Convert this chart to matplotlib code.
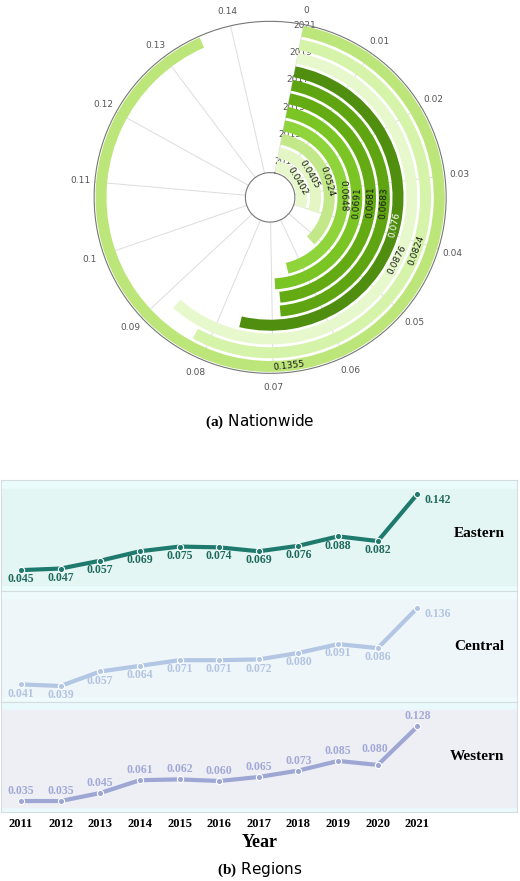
import numpy as np
import matplotlib
matplotlib.use("Agg")
import matplotlib.pyplot as plt

plt.rcParams['mathtext.fontset'] = 'custom'
plt.rcParams['mathtext.bf'] = 'Liberation Serif:bold'
plt.rcParams['mathtext.rm'] = 'Liberation Serif'

years = [2011, 2012, 2013, 2014, 2015, 2016, 2017, 2018, 2019, 2020, 2021]
national = [0.0402, 0.0405, 0.0524, 0.0648, 0.0691, 0.0681, 0.0683, 0.076, 0.0876, 0.0824, 0.1355]
bar_colors = ['#e8f8cc', '#e3f6c4', '#c3e88a', '#8ed43a', '#7ac423', '#64ab13', '#5fa512',
              '#4f8e0e', '#e6f8cc', '#d6f3aa', '#bde67a']
eastern = [0.045, 0.047, 0.057, 0.069, 0.075, 0.074, 0.069, 0.076, 0.088, 0.082, 0.142]
central = [0.041, 0.039, 0.057, 0.064, 0.071, 0.071, 0.072, 0.080, 0.091, 0.086, 0.136]
western = [0.035, 0.035, 0.045, 0.061, 0.062, 0.060, 0.065, 0.073, 0.085, 0.080, 0.128]
angle_ticks = [round(0.01 * i, 2) for i in range(15)]

fig = plt.figure(figsize=(5.2, 8.81), dpi=100)
FULL = 0.15
def th(v):
    return np.asarray(v) * 2 * np.pi / FULL

ax = fig.add_axes([0.181, 0.576, 0.677, 0.40], projection='polar')
ax.set_theta_zero_location('N', offset=-11)
ax.set_theta_direction(-1)
r = np.arange(len(years))
ax.barh(r, th(national), left=0, height=0.8, color=bar_colors, zorder=3)
ax.set_ylim(-0.5, 10.5)
ax.set_rorigin(-2.3)
ax.set_xticks(th(angle_ticks))
ax.set_xticklabels([f"{t:g}" for t in angle_ticks], fontsize=6.5, color='#555555')
ax.tick_params(axis='x', pad=0)
ax.set_yticks(r[::2])
ax.set_yticklabels([str(y) for y in years[::2]], fontsize=6.5, color='#555555')
ax.set_rlabel_position(-3)
ax.xaxis.grid(True, color='#dddddd', lw=0.7)
ax.yaxis.grid(False)
for s in ax.spines.values():
    s.set_color('#777777'); s.set_linewidth(0.8)
for ri, v in zip(r, national):
    t = th(v / 2)
    cw = np.degrees(t) + 11
    rot = -cw
    if rot < -90:
        rot += 180
    col = 'white' if ri == 7 else '#1a1a1a'
    ax.text(t, ri, f"{v:g}", rotation=rot, rotation_mode='anchor', ha='center', va='center',
            fontsize=6.5, color=col, zorder=4)
fig.text(0.5, 0.521, r"$\bf{(a)}$ Nationwide", ha='center', va='center', fontsize=11)

panels = [("Eastern", eastern, '#1f7a6e', '#1f6a5e', (0.0186, 0.1596), '#eafcfb', '#e4f6f3', 'below'),
          ("Central", central, '#b3c6e3', '#b4c4e0', (0.0197, 0.157), '#effafd', '#eef6fa', 'below'),
          ("Western", western, '#9ea6d4', '#a3a9d6', (0.021, 0.159), '#eafafc', '#eeeff5', 'above')]
h = (0.455 - 0.078) / 3
for i, (name, vals, lc, tc, yl, bg, inner, pos) in enumerate(panels):
    a = fig.add_axes([0.002, 0.455 - (i + 1) * h, 0.993, h])
    a.set_facecolor(bg)
    a.set_xlim(2010.5, 2023.52)
    a.set_ylim(*yl)
    span = yl[1] - yl[0]
    a.axhspan(yl[0] + 0.05 * span, yl[1] - 0.08 * span, color=inner, zorder=0)
    a.plot(years, vals, color=lc, lw=3, zorder=2)
    a.plot(years, vals, 'o', ms=4.5, mfc=lc, mec='white', mew=0.8, zorder=3)
    for k, (x, v) in enumerate(zip(years, vals)):
        if k == 10 and pos == 'below':
            a.text(x + 0.18, v - 0.008, f"{v:.3f}", ha='left', va='center', fontsize=8.5,
                   fontweight='bold', color=tc, family='Liberation Serif')
        elif pos == 'below':
            a.text(x, v - 0.004, f"{v:.3f}", ha='center', va='top', fontsize=8.5,
                   fontweight='bold', color=tc, family='Liberation Serif')
        else:
            dx = -0.08 if k == 9 else 0
            a.text(x + dx, v + 0.005 + (0.008 if k == 9 else 0), f"{v:.3f}", ha='center', va='bottom',
                   fontsize=8.5, fontweight='bold', color=tc, family='Liberation Serif')
    a.text(0.975, 0.5 if i != 0 else 0.52, name, transform=a.transAxes, ha='right', va='center',
           fontsize=11, fontweight='bold', family='Liberation Serif')
    for s in a.spines.values():
        s.set_color('#d5dde0')
    a.set_yticks([])
    if i < 2:
        a.set_xticks([])
    else:
        a.set_xticks(years)
        a.set_xticklabels([str(y) for y in years], fontsize=9, fontweight='bold', family='Liberation Serif')
        a.tick_params(axis='x', length=0, pad=4)
        a.set_xlabel("Year", fontsize=13, fontweight='bold', family='Liberation Serif', labelpad=3)
fig.text(0.5, 0.013, r"$\bf{(b)}$ Regions", ha='center', va='center', fontsize=11)
fig.savefig("out.png", dpi=100)
